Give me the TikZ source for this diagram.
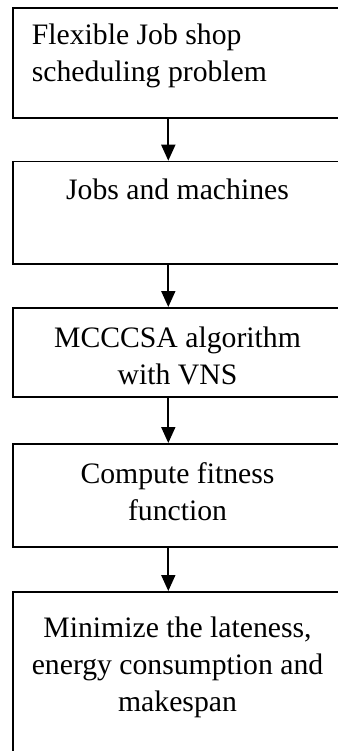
\documentclass[tikz,border=0pt]{standalone}
\usepackage{fontspec}
\setmainfont{Liberation Serif}
\usetikzlibrary{arrows.meta}
\begin{document}
\begin{tikzpicture}[x=1pt,y=-1pt,
  stagebox/.style={draw,line width=1.8pt,rectangle,minimum width=332pt,inner sep=0pt,anchor=north west},
  label/.style={anchor=base,inner sep=0pt,font=\fontsize{29.7}{37}\selectfont},
  flow/.style={line width=1.8pt,-{Triangle[width=14pt,length=16pt]}}]
\useasboundingbox (0,0) rectangle (337,751);
% the five stages, stacked top to bottom
\node[stagebox,minimum height=110pt] (s1) at (11.7,7.3) {};
\node[stagebox,minimum height=102pt] (s2) at (11.7,160.7) {};
\node[stagebox,minimum height=89pt]  (s3) at (11.7,307) {};
\node[stagebox,minimum height=103pt] (s4) at (11.7,443) {};
\node[stagebox,minimum height=200pt] (s5) at (11.7,591) {};
% stage texts
\node[label,anchor=base west] (t1a) at (31.7,45) {Flexible Job shop};
\node[label,anchor=base west] (t1b) at (31.7,82) {scheduling problem};
\node[label] (t2) at (177.5,200) {Jobs and machines};
\node[label] (t3a) at (177.5,347.5) {MCCCSA algorithm};
\node[label] (t3b) at (177.5,384.5) {with VNS};
\node[label] (t4a) at (177.5,483) {Compute fitness};
\node[label] (t4b) at (177.5,520) {function};
\node[label] (t5a) at (177.5,637) {Minimize the lateness,};
\node[label] (t5b) at (177.5,674) {energy consumption and};
\node[label] (t5c) at (177.5,711) {makespan};
% connectors between stages
\foreach \a/\b in {s1/s2,s2/s3,s3/s4,s4/s5}
  \draw[flow] (\a.south west) ++(156.6,0) coordinate (\a-out) -- (\a-out |- \b.north);
\end{tikzpicture}
\end{document}
